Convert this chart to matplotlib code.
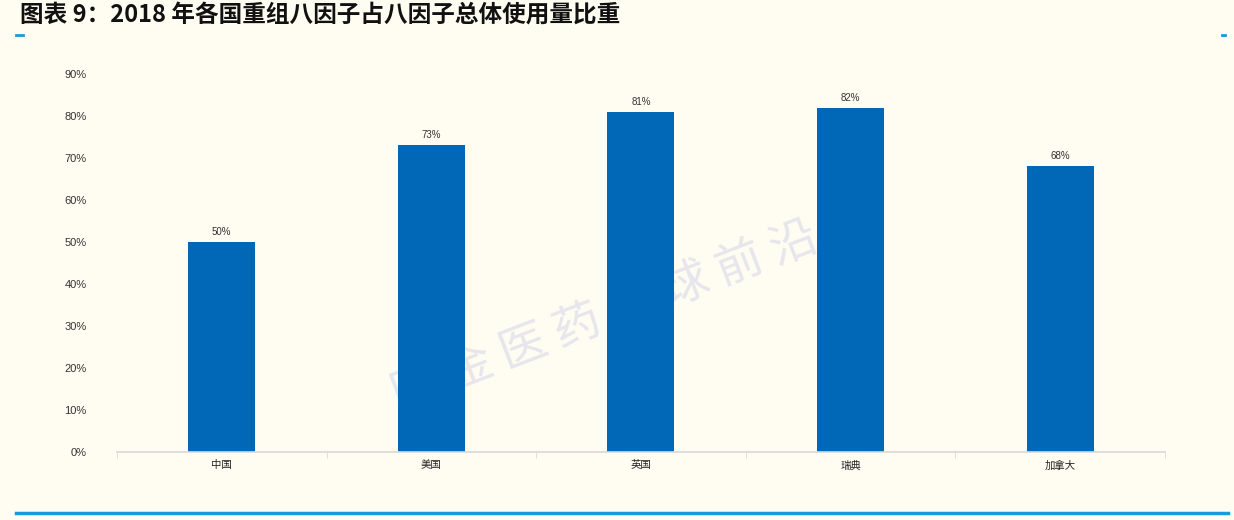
import matplotlib.pyplot as plt
from matplotlib.lines import Line2D

plt.rcParams['font.family'] = ['Noto Sans CJK SC', 'DejaVu Sans']

# 数据
countries = ['中国', '美国', '英国', '瑞典', '加拿大']
shares = [0.50, 0.73, 0.81, 0.82, 0.68]
yticks = [0, 0.1, 0.2, 0.3, 0.4, 0.5, 0.6, 0.7, 0.8, 0.9]
title = '图表 9：2018 年各国重组八因子占八因子总体使用量比重'

bg = '#FFFCF2'
num_font = ['Liberation Sans', 'DejaVu Sans']
fig = plt.figure(figsize=(12.34, 5.2), dpi=100, facecolor=bg)
ax = fig.add_axes([0.0948, 0.1308, 0.8492, 0.7269], facecolor=bg)

x = list(range(len(countries)))
ax.bar(x, shares, width=0.32, color='#0068B7', zorder=2)
for xi, v in zip(x, shares):
    ax.text(xi, v + 0.012, '%d%%' % round(v * 100), ha='center', va='bottom',
            fontsize=7, color='#333333', family=num_font)

ax.set_xlim(-0.5, len(countries) - 0.5)
ax.set_ylim(0, 0.9)
ax.set_yticks(yticks)
ax.set_yticklabels(['%d%%' % round(t * 100) for t in yticks], fontsize=8,
                   color='#333333', family=num_font)
ax.set_xticks(x)
ax.set_xticklabels(countries, fontsize=7.5, color='#222222')
ax.set_xticks([i - 0.5 for i in range(len(countries) + 1)], minor=True)
ax.tick_params(axis='x', which='major', length=0, pad=6)
ax.tick_params(axis='x', which='minor', length=4, color='#D9D9D9', direction='out')
ax.tick_params(axis='y', length=0, pad=22)
for s in ['top', 'right', 'left']:
    ax.spines[s].set_visible(False)
ax.spines['bottom'].set_color('#D9D9D9')
ax.spines['bottom'].set_linewidth(1.2)

# 水印
ax.text(0.49, 0.39, '国 金 医 药 全 球 前 沿', fontsize=34, color='#E6E6EC',
        fontweight='light', rotation=21, ha='center', va='center',
        transform=fig.transFigure, zorder=1)

# 标题
fig.text(0.016, 0.972, title, fontsize=17, fontweight='bold', style='italic',
         ha='left', va='center', color='#111111')

# 装饰线
fig.add_artist(Line2D([0.013, 0.019], [0.933, 0.933], color='#1A9AD6', lw=2))
fig.add_artist(Line2D([0.990, 0.993], [0.933, 0.933], color='#1A9AD6', lw=2))
fig.add_artist(Line2D([0.013, 0.995], [0.013, 0.013], color='#1A9AD6', lw=2.5))

fig.savefig('out.png', dpi=100, facecolor=bg)
